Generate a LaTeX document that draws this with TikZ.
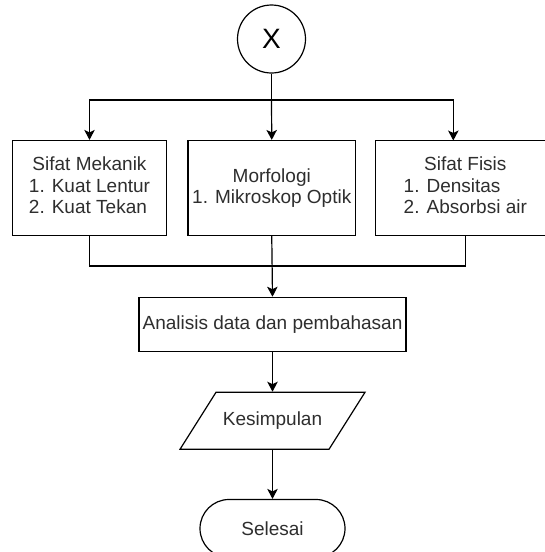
\documentclass[tikz,border=0pt]{standalone}
\usepackage{fontspec}
\setmainfont{Liberation Sans}
\usetikzlibrary{arrows.meta,shapes.misc,calc}
\begin{document}
\begin{tikzpicture}[x={(1pt,0)},y={(0,-1pt)},
  line width=1.2pt,
  txt/.style={text=black!82,font=\fontsize{19}{21.5}\selectfont},
  box/.style={draw,rectangle,inner sep=0pt,txt},
  arr/.style={-{Stealth[length=10pt,width=10.5pt,inset=2.5pt]}},
  ]
\useasboundingbox (0,0) rectangle (545,552);
\clip (0,0) rectangle (545,552);
\fill[white] (0,0) rectangle (545,552);

\node[draw,circle,minimum size=68pt,inner sep=0pt,text=black,font=\fontsize{28}{30}\selectfont] (circ) at (271.5,39) {X};
\coordinate (j1) at (271.5,100);

\node[box,minimum width=154pt,minimum height=95pt] (mek) at (89.5,188)
  {\begin{tabular}{@{}l@{}}\multicolumn{1}{@{}c@{}}{Sifat Mekanik}\\1. Kuat Lentur\\2. Kuat Tekan\end{tabular}};
\node[box,minimum width=167.5pt,minimum height=95pt,align=center] (morf) at (271.75,188)
  {Morfologi\\1. Mikroskop Optik};
\node[box,minimum width=179.3pt,minimum height=95pt] (fis) at (465.3,188)
  {\begin{tabular}{@{}l@{}}\multicolumn{1}{@{}c@{}}{Sifat Fisis}\\1. Densitas\\2. Absorbsi air\end{tabular}};
\coordinate (fisin) at (453.3,140.5);
\coordinate (j2) at (271.75,266);

\node[box,minimum width=267pt,minimum height=54pt] (ana) at (272.5,324.3) {Analisis data dan pembahasan};

\node[txt,minimum height=57pt,inner sep=0pt] (kes) at (272.5,420.8) {Kesimpulan};
\draw ($(kes.center)+(-56.5,-28.5)$) -- ($(kes.center)+(92.5,-28.5)$) -- ($(kes.center)+(56.5,28.5)$) -- ($(kes.center)+(-92.5,28.5)$) -- cycle;

\node[draw,rounded rectangle,minimum width=145pt,minimum height=58pt,inner sep=0pt,txt] (sel) at (272.5,528.5) {Selesai};

% connectors
\draw (circ.south) -- (j1);
\draw[arr] (j1) -| (mek.north);
\draw[arr] (j1) -- (morf.north);
\draw[arr] (j1) -| (fisin);
\draw (mek.south) |- (j2);
\draw (fis.south) |- (j2);
\draw[arr] (morf.south) -- (ana.north);
\draw[arr] (ana.south) -- (kes.north);
\draw[arr] (kes.south) -- (sel.north);
\end{tikzpicture}
\end{document}
